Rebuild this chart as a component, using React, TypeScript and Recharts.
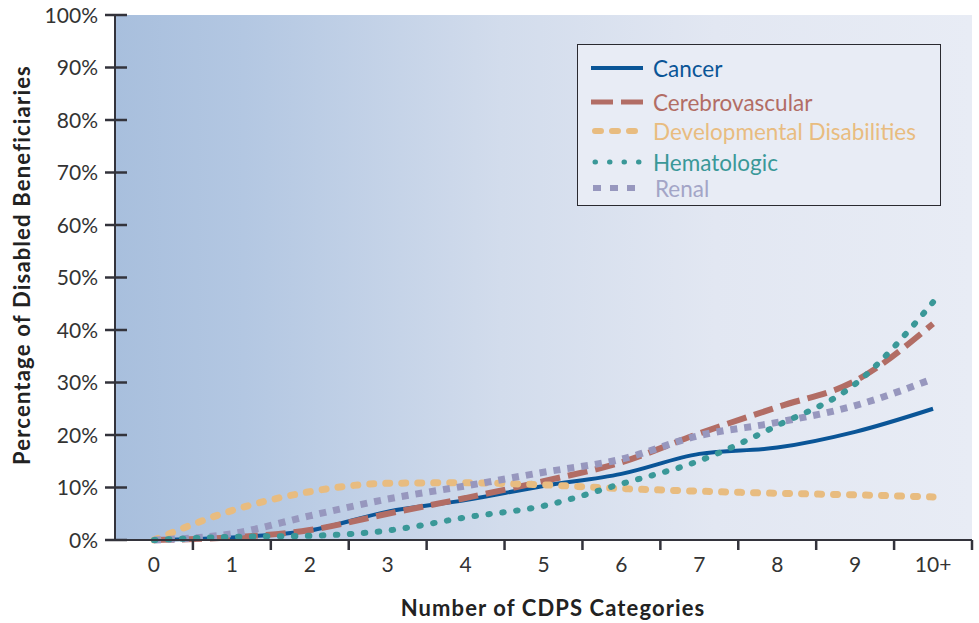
import { LineChart, Line, XAxis, YAxis, ReferenceArea } from 'recharts';

// x categories and tick labels
const categories = ['0', '1', '2', '3', '4', '5', '6', '7', '8', '9', '10+'];
const yTicks = [0, 10, 20, 30, 40, 50, 60, 70, 80, 90, 100];

// percentage of disabled beneficiaries
const cancer = [0, 0.5, 1.8, 5.4, 7.6, 10.3, 12.6, 16.4, 17.6, 20.6, 25.0];
const cerebrovascular = [0, 0.5, 1.9, 5.0, 8.0, 11.2, 14.8, 20.3, 25.3, 30.3, 41.2];
const developmental = [0, 5.6, 9.2, 10.8, 10.9, 10.5, 9.8, 9.3, 8.9, 8.6, 8.2];
const hematologic = [0, 0.6, 0.8, 1.8, 4.3, 6.5, 10.7, 15.1, 21.8, 29.7, 45.3];
const renal = [0, 1.2, 4.6, 7.8, 10.3, 12.9, 15.4, 19.9, 22.4, 25.6, 30.7];

const data = categories.map((c, i) => ({
  x: i,
  label: c,
  cancer: cancer[i],
  cerebrovascular: cerebrovascular[i],
  developmental: developmental[i],
  hematologic: hematologic[i],
  renal: renal[i],
}));

const FONT = 'Lato, "Open Sans", sans-serif';
const AXIS = '#33333b';
const HALF_BAND = (972 - 115) / 11 / 2;

const series = [
  { key: 'cancer', name: 'Cancer', color: '#0a5597', text: '#0a5597', width: 4, dash: undefined, cap: 'butt' },
  { key: 'cerebrovascular', name: 'Cerebrovascular', color: '#b26d65', text: '#b26d65', width: 6, dash: '20 8', cap: 'butt' },
  { key: 'developmental', name: 'Developmental Disabilities', color: '#e8bc80', text: '#e8bc80', width: 7, dash: '4 12', cap: 'round' },
  { key: 'renal', name: 'Renal', color: '#9797be', text: '#a3a5c7', width: 7, dash: '7 7', cap: 'butt' },
  { key: 'hematologic', name: 'Hematologic', color: '#3a9898', text: '#3a9898', width: 6, dash: '1.5 12.5', cap: 'round' },
];
const legendOrder = ['cancer', 'cerebrovascular', 'developmental', 'hematologic', 'renal'];

const XTick = (props: any) => {
  const { x, y, payload } = props;
  const axisY = y - 18;
  return (
    <g>
      <line x1={x + HALF_BAND} x2={x + HALF_BAND} y1={axisY} y2={axisY + 10} stroke={AXIS} strokeWidth={2.5} />
      <text x={x} y={axisY + 32} textAnchor="middle" fontSize={21} fill="#333" fontFamily={FONT}>
        {categories[payload.value]}
      </text>
    </g>
  );
};

const YTick = (props: any) => {
  const { x, y, payload } = props;
  const axisX = x + 17;
  return (
    <g>
      <line x1={axisX - 10} x2={axisX + 12} y1={y} y2={y} stroke={AXIS} strokeWidth={2.5} />
      <text x={x} y={y + 7.5} textAnchor="end" fontSize={21} fill="#333" fontFamily={FONT}>
        {payload.value}%
      </text>
    </g>
  );
};

const YTitle = () => (
  <text
    transform="translate(30, 265) rotate(-90)"
    textAnchor="middle"
    fontSize={22}
    fontWeight={700}
    letterSpacing={1.2}
    fill="#222"
    fontFamily={FONT}
  >
    Percentage of Disabled Beneficiaries
  </text>
);

const XTitle = () => (
  <text x={553} y={616} textAnchor="middle" fontSize={22} fontWeight={700} letterSpacing={1.1} fill="#222" fontFamily={FONT}>
    Number of CDPS Categories
  </text>
);

function LegendSwatch({ s }: { s: (typeof series)[number] }) {
  if (s.key === 'cancer') {
    return <line x1={2} x2={54} y1={12} y2={12} stroke={s.color} strokeWidth={4} />;
  }
  if (s.key === 'cerebrovascular') {
    return <line x1={2} x2={54} y1={12} y2={12} stroke={s.color} strokeWidth={5} strokeDasharray="22 8" />;
  }
  if (s.key === 'developmental') {
    return <line x1={6} x2={50} y1={12} y2={12} stroke={s.color} strokeWidth={6} strokeLinecap="round" strokeDasharray="6 11" />;
  }
  if (s.key === 'hematologic') {
    return <line x1={6} x2={56} y1={12} y2={12} stroke={s.color} strokeWidth={5} strokeLinecap="round" strokeDasharray="0.5 14" />;
  }
  return <line x1={4} x2={54} y1={12} y2={12} stroke={s.color} strokeWidth={6} strokeDasharray="8 9" />;
}

function ChartLegend() {
  const tops = [11, 45, 74, 105, 131];
  return (
    <div
      style={{
        position: 'absolute',
        left: 577,
        top: 44,
        width: 364,
        height: 162,
        border: '1.5px solid #2a2a30',
        background: '#e8ecf5',
        boxSizing: 'border-box',
      }}
    >
      {legendOrder.map((k, i) => {
        const s = series.find((d) => d.key === k)!;
        return (
          <div key={k} style={{ position: 'absolute', left: 11, top: tops[i], height: 24, display: 'flex', alignItems: 'center' }}>
            <svg width={60} height={24}>
              <LegendSwatch s={s} />
            </svg>
            <span
              style={{
                marginLeft: k === 'renal' ? 6 : 4,
                fontFamily: FONT,
                fontSize: 22.5,
                color: s.text,
                whiteSpace: 'nowrap',
              }}
            >
              {s.name}
            </span>
          </div>
        );
      })}
    </div>
  );
}

export default function App() {
  return (
    <div style={{ position: 'absolute', left: 0, top: 0, width: 979, height: 623, background: '#fff' }}>
      <LineChart width={979} height={623} data={data} margin={{ top: 15, right: 7, left: 55, bottom: 52 }}>
        <defs>
          <linearGradient id="plotBg" x1="0" y1="0" x2="1" y2="0">
            <stop offset="0%" stopColor="#a8bfdd" />
            <stop offset="15%" stopColor="#b3c7e2" />
            <stop offset="45%" stopColor="#d2dcec" />
            <stop offset="70%" stopColor="#e2e7f2" />
            <stop offset="100%" stopColor="#e8ecf5" />
          </linearGradient>
        </defs>
        <ReferenceArea x1={-0.5} x2={10.5} y1={0} y2={100} fill="url(#plotBg)" fillOpacity={1} stroke="none" />
        <XAxis
          dataKey="x"
          type="number"
          domain={[-0.5, 10.5]}
          ticks={categories.map((_, i) => i)}
          interval={0}
          height={31}
          tickSize={10}
          tickMargin={8}
          tickLine={false}
          tick={<XTick />}
          axisLine={{ stroke: AXIS, strokeWidth: 2 }}
          label={{ content: <XTitle /> }}
        />
        <YAxis
          type="number"
          domain={[0, 100]}
          ticks={yTicks}
          interval={0}
          width={60}
          tickSize={10}
          tickMargin={7}
          tickLine={false}
          tick={<YTick />}
          axisLine={{ stroke: AXIS, strokeWidth: 2 }}
          label={{ content: <YTitle /> }}
        />
        {series.map((s) => (
          <Line
            key={s.key}
            type="monotone"
            dataKey={s.key}
            name={s.name}
            stroke={s.color}
            strokeWidth={s.width}
            strokeDasharray={s.dash}
            strokeLinecap={s.cap as any}
            dot={false}
            activeDot={false}
            isAnimationActive={false}
          />
        ))}
      </LineChart>
      <ChartLegend />
    </div>
  );
}
